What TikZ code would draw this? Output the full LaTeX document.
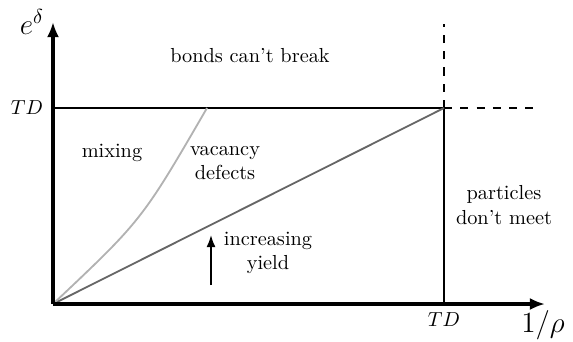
\documentclass[tikz,border=0pt]{standalone}
\usepackage{amsmath,amssymb}
\usepackage{xcolor}
\usetikzlibrary{arrows.meta,positioning,calc}
\tikzset{
  axis/.style     ={line width=1.5pt,-{Latex[length=7.5pt,width=6pt]}},
  bound/.style    ={line width=0.9pt},
  bounddash/.style={line width=0.9pt,dash pattern=on 4pt off 4pt},
  yieldline/.style={black!60,line width=0.9pt},
  mixline/.style  ={black!30,line width=0.9pt},
  region/.style   ={align=center,inner sep=0pt},
  axlabel/.style  ={font=\Large,inner sep=0pt},
  trend/.style    ={line width=0.8pt,-{Latex[length=6pt,width=4.5pt]}},
}

\begin{document}
\begin{tikzpicture}[x=0.0173cm,y=-0.0173cm]
  \useasboundingbox (0,0) rectangle (573,341);
  % corners of the diagram
  \coordinate (O)      at (53,304);
  \coordinate (ytop)   at (53,22);
  \coordinate (xend)   at (545,304);
  \coordinate (TDy)    at (53,108);
  \coordinate (TDc)    at (444,108);
  \coordinate (TDx)    at (444,304);
  \coordinate (dtop)   at (444,24);
  \coordinate (dright) at (536,108);
  \coordinate (mixend) at (207,108);
  \coordinate (up0)    at (211,285);
  \coordinate (up1)    at (211,235);

  \draw[bound] (TDy) -- (TDc) -- (TDx);
  \draw[bounddash] (TDc) -- (dtop);
  \draw[bounddash] (TDc) -- (dright);
  \draw[yieldline] (O) -- (TDc);
  \draw[mixline] (O) .. controls (142,220) .. (mixend);
  \draw[axis] (O) -- (ytop);
  \draw[axis] (O) -- (xend);
  \draw[trend] (up0) -- (up1);

  \node[axlabel] (ylab) at (32,22)  {$e^{\delta}$};
  \node[axlabel] (xlab) at (543,325) {$1/\rho$};
  \node[inner sep=0pt] (tdy) at (27,108) {$TD$};
  \node[inner sep=0pt] (tdx) at (444,320) {$TD$};

  \node[region] (bonds)  at (250,56)  {bonds can't break};
  \node[region] (mix)    at (112,153) {mixing};
  \node[region] (vac)    at (225,163) {vacancy\\defects};
  \node[region] (meet)   at (504,205) {particles\\don't meet};
  \node[region] (yield)  at (268,253) {increasing\\yield};
\end{tikzpicture}
\end{document}
